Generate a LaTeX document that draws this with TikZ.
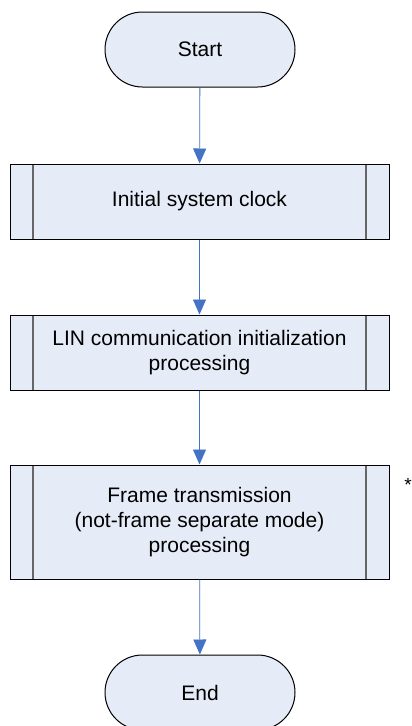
\documentclass[tikz,border=0pt]{standalone}
\usepackage{fontspec}
\setmainfont{Liberation Sans}
\usepackage{tikz}
\usetikzlibrary{arrows.meta}
\definecolor{boxfill}{RGB}{230,236,247}
\definecolor{flowblue}{RGB}{68,114,196}
\tikzstyle{terminal}=[draw=black,fill=boxfill,rounded corners=37.5pt,minimum width=190pt,minimum height=75pt,inner sep=0pt]
\tikzstyle{process}=[draw=black,fill=boxfill,minimum width=379pt,inner sep=0pt,align=center,
  path picture={\draw[black!60,line width=1.2pt]
    ([xshift=23pt]path picture bounding box.north west) -- ([xshift=23pt]path picture bounding box.south west)
    ([xshift=-23pt]path picture bounding box.north east) -- ([xshift=-23pt]path picture bounding box.south east);}]
\tikzstyle{flow}=[draw=flowblue,line width=0.8pt,-{Triangle[width=13pt,length=15pt]}]

\begin{document}
\begin{tikzpicture}[x=1pt,y=-1pt,line width=1pt,
        font=\fontsize{21}{25}\selectfont]
        \useasboundingbox (0,0) rectangle (412,726);
        \node[terminal] (start) at (200,49.5) {Start};
        \node[process,minimum height=75pt] (clock) at (199.5,201.5) {Initial system clock};
        \node[process,minimum height=75pt] (lin) at (199.5,352.5) {LIN communication initialization\\processing};
        \node[process,minimum height=114pt] (frame) at (199.5,522) {Frame transmission\\(not-frame separate mode)\\processing};
        \node[terminal] (end) at (200,692.5) {End};
        \node[font=\fontsize{19}{22}\selectfont] (star) at (408,485) {*};
        \draw[flow] (start) -- (clock);
        \draw[flow] (clock) -- (lin);
        \draw[flow] (lin) -- (frame);
        \draw[flow] (frame) -- (end);
      \end{tikzpicture}
\end{document}
